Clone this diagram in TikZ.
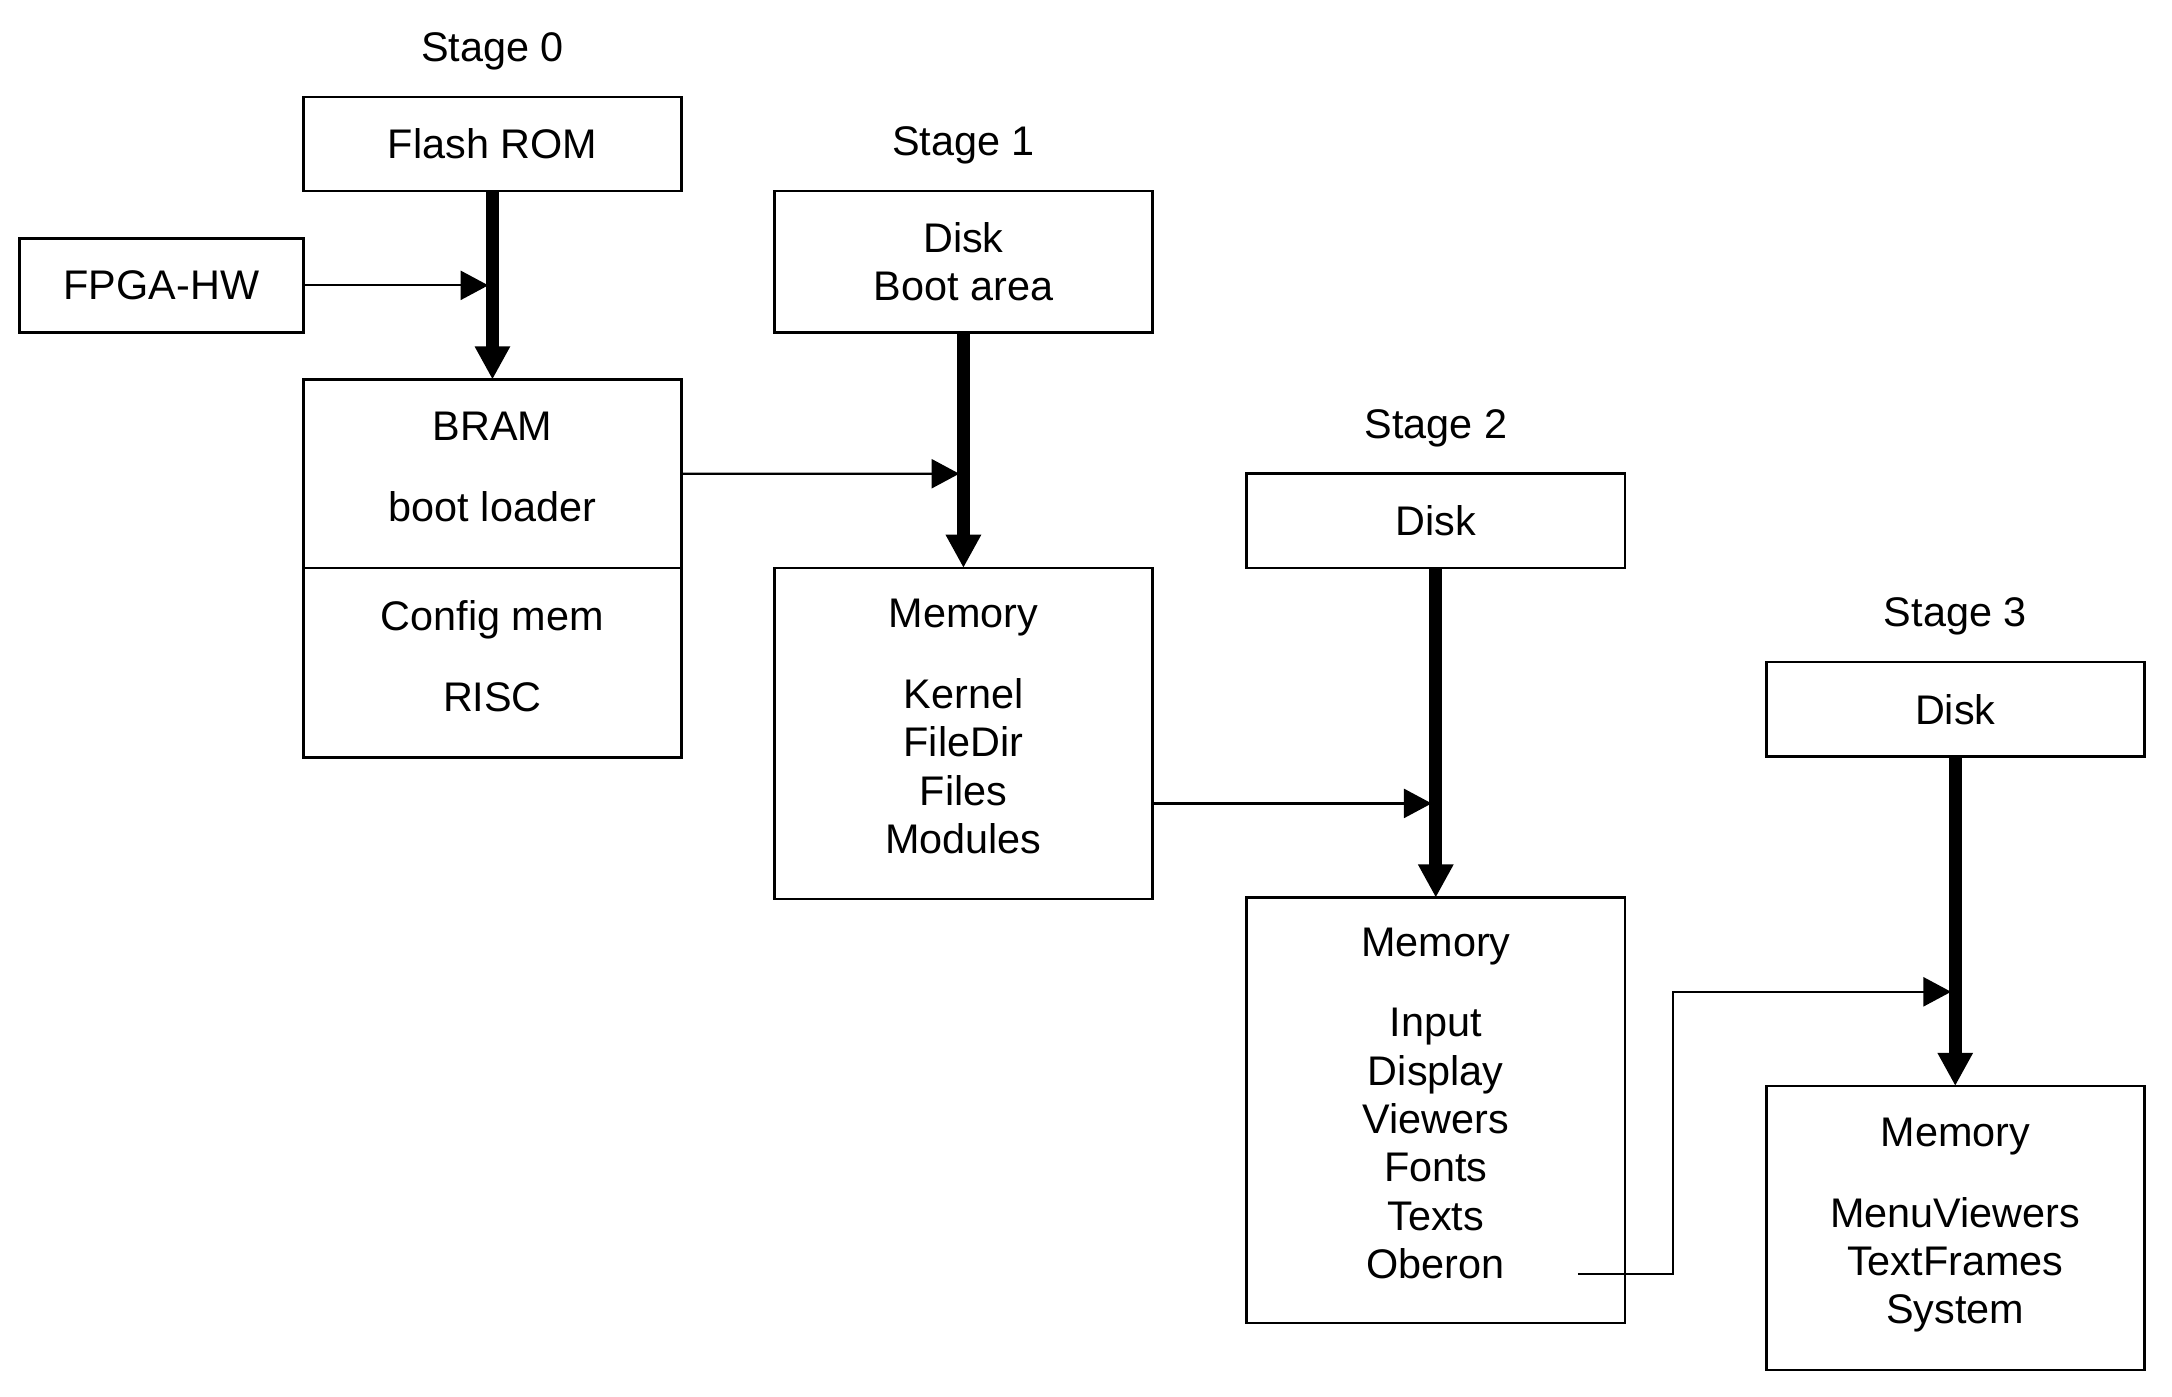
\documentclass[tikz,border=0pt]{standalone}
\usepackage{fontspec}
\setmainfont{Liberation Sans}
\usetikzlibrary{positioning, arrows.meta}

% extra depth under the last line of a listing box
\newcommand{\lowpad}{\rule[-0.2cm]{0pt}{0pt}}

\begin{document}
\begin{tikzpicture}[
    node distance=2.72cm,
    font=\fontsize{17}{19.9}\selectfont,
    box/.style={draw, line width=1.1pt, minimum width=5.46cm, align=center, inner sep=2pt, outer sep=0pt},
    stagelbl/.style={inner sep=0pt},
    bus/.style={line width=5.3pt, -{Triangle[length=0.48cm, width=0.48cm]}},
    feed/.style={line width=0.9pt, shorten >=0.06cm, -{Triangle[length=0.4cm, width=0.42cm]}}
]
    \useasboundingbox (0,0) rectangle (31.36,-20.16);

    % Stage 0
    \node[box, minimum height=1.36cm] (flashrom) at (7.11,-2.08) {Flash ROM};
    \node[box, minimum height=2.72cm, below=of flashrom] (bram) {BRAM\\[0.46cm]boot loader\lowpad};
    \node[box, minimum height=2.74cm, below=0cm of bram] (config) {Config mem\\[0.46cm]RISC\lowpad};
    \coordinate (join0) at ([yshift=1.36cm]bram.north);
    \node[box, minimum width=4.1cm, minimum height=1.36cm, anchor=east] (fpga) at (join0 -| flashrom.west) {FPGA-HW};

    % Stage 1
    \node[box, minimum height=2.04cm, below right=0cm and 1.34cm of flashrom] (disk1) {Disk\\Boot area};
    \node[box, minimum height=4.78cm, below=3.4cm of disk1] (mem1) {Memory\\[0.46cm]Kernel\\FileDir\\Files\\Modules\lowpad};

    % Stage 2
    \node[box, minimum height=1.36cm, above right=0cm and 1.36cm of mem1] (disk2) {Disk};
    \node[box, minimum height=6.14cm, below=4.76cm of disk2] (mem2) {Memory\\[0.46cm]Input\\Display\\Viewers\\Fonts\\Texts\\Oberon\lowpad};

    % Stage 3
    \node[box, minimum height=1.36cm, below right=1.36cm and 2.04cm of disk2] (disk3) {Disk};
    \node[box, minimum height=4.1cm, below=4.76cm of disk3] (mem3) {Memory\\[0.46cm]MenuViewers\\TextFrames\\System\lowpad};

    % Stage labels
    \foreach \n/\d in {0/flashrom, 1/disk1, 2/disk2, 3/disk3}
        \node[stagelbl] (stage\n) at ([yshift=0.66cm]\d.north) {Stage \n};

    % Junctions on the load paths
    \coordinate (join1) at ([yshift=1.36cm]mem1.north);
    \coordinate (join2) at ([yshift=1.36cm]mem2.north);
    \coordinate (join3) at ([yshift=1.36cm]mem3.north);
    \coordinate (oberon) at ([shift={(-0.68cm,0.7cm)}]mem2.south east);

    % Load paths
    \draw[bus] (flashrom) -- (bram);
    \draw[bus] (disk1) -- (mem1);
    \draw[bus] (disk2) -- (mem2);
    \draw[bus] (disk3) -- (mem3);

    % Control transfers
    \draw[feed] (fpga) -- (join0);
    \draw[feed] (bram.east) -- (join1);
    \draw[feed] (mem1.east |- join2) -- (join2);
    \draw[feed] (oberon) -- ++(1.38cm,0) |- (join3);
\end{tikzpicture}
\end{document}
